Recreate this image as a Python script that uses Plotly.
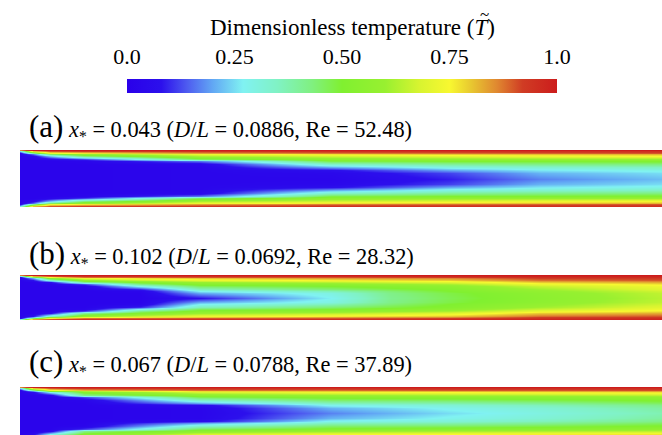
import numpy as np
import plotly.graph_objects as go

# ---------------- data ----------------
# distance from the wall, as a fraction of the half-height (0 = wall, 1 = centreline)
eta = [0.0, 0.05, 0.1, 0.15, 0.2, 0.3, 0.4, 0.5, 0.6, 0.7, 0.8, 1.0]

# axial stations (fraction of the shown channel length)
x_a = [0.0, 0.02, 0.047, 0.1, 0.28, 0.484, 0.67, 0.81, 1.0]
T_a = [
    [0.85, 0.25, 0.04, 0.02, 0.02, 0.02, 0.02, 0.02, 0.02, 0.02, 0.02, 0.02],
    [1.0, 0.80, 0.40, 0.15, 0.05, 0.02, 0.02, 0.02, 0.02, 0.02, 0.02, 0.02],
    [1.0, 0.90, 0.72, 0.45, 0.22, 0.04, 0.02, 0.02, 0.02, 0.02, 0.02, 0.02],
    [1.0, 0.92, 0.77, 0.57, 0.43, 0.12, 0.03, 0.02, 0.02, 0.02, 0.02, 0.02],
    [1.0, 0.94, 0.84, 0.72, 0.62, 0.46, 0.16, 0.04, 0.03, 0.03, 0.03, 0.03],
    [1.0, 0.95, 0.87, 0.77, 0.67, 0.56, 0.48, 0.34, 0.20, 0.07, 0.04, 0.03],
    [1.0, 0.95, 0.88, 0.80, 0.70, 0.58, 0.50, 0.40, 0.30, 0.20, 0.12, 0.09],
    [1.0, 0.95, 0.89, 0.81, 0.72, 0.59, 0.50, 0.42, 0.33, 0.26, 0.21, 0.17],
    [1.0, 0.95, 0.90, 0.82, 0.74, 0.60, 0.51, 0.43, 0.35, 0.29, 0.25, 0.22],
]

x_b = [0.0, 0.02, 0.047, 0.1, 0.187, 0.28, 0.484, 0.576, 0.67, 0.81, 1.0]
T_b = [
    [0.85, 0.25, 0.04, 0.02, 0.02, 0.02, 0.02, 0.02, 0.02, 0.02, 0.02, 0.02],
    [1.0, 0.82, 0.45, 0.20, 0.08, 0.02, 0.02, 0.02, 0.02, 0.02, 0.02, 0.02],
    [1.0, 0.90, 0.75, 0.55, 0.33, 0.07, 0.02, 0.02, 0.02, 0.02, 0.02, 0.02],
    [1.0, 0.95, 0.88, 0.72, 0.58, 0.40, 0.12, 0.03, 0.02, 0.02, 0.02, 0.02],
    [1.0, 0.95, 0.89, 0.77, 0.66, 0.52, 0.42, 0.28, 0.10, 0.03, 0.02, 0.02],
    [1.0, 0.95, 0.90, 0.80, 0.72, 0.60, 0.53, 0.46, 0.36, 0.27, 0.20, 0.08],
    [1.0, 0.96, 0.90, 0.84, 0.76, 0.64, 0.56, 0.50, 0.44, 0.36, 0.30, 0.27],
    [1.0, 0.96, 0.91, 0.85, 0.78, 0.67, 0.59, 0.53, 0.48, 0.44, 0.42, 0.41],
    [1.0, 0.97, 0.92, 0.86, 0.80, 0.70, 0.62, 0.56, 0.52, 0.50, 0.48, 0.47],
    [1.0, 0.98, 0.95, 0.92, 0.88, 0.80, 0.72, 0.66, 0.61, 0.58, 0.56, 0.55],
    [1.0, 0.98, 0.96, 0.93, 0.90, 0.83, 0.77, 0.73, 0.70, 0.67, 0.65, 0.64],
]

x_c = [0.0, 0.02, 0.047, 0.1, 0.28, 0.484, 0.67, 0.81, 1.0]
T_c = [
    [0.85, 0.25, 0.04, 0.02, 0.02, 0.02, 0.02, 0.02, 0.02, 0.02, 0.02, 0.02],
    [1.0, 0.80, 0.42, 0.17, 0.06, 0.02, 0.02, 0.02, 0.02, 0.02, 0.02, 0.02],
    [1.0, 0.90, 0.73, 0.50, 0.27, 0.05, 0.02, 0.02, 0.02, 0.02, 0.02, 0.02],
    [1.0, 0.94, 0.82, 0.62, 0.52, 0.42, 0.12, 0.03, 0.02, 0.02, 0.02, 0.02],
    [1.0, 0.95, 0.88, 0.78, 0.68, 0.56, 0.47, 0.34, 0.20, 0.06, 0.03, 0.03],
    [1.0, 0.95, 0.88, 0.80, 0.73, 0.60, 0.52, 0.45, 0.36, 0.28, 0.21, 0.17],
    [1.0, 0.96, 0.90, 0.82, 0.75, 0.62, 0.54, 0.46, 0.38, 0.32, 0.28, 0.25],
    [1.0, 0.96, 0.90, 0.83, 0.76, 0.63, 0.55, 0.48, 0.41, 0.36, 0.32, 0.30],
    [1.0, 0.96, 0.91, 0.84, 0.77, 0.65, 0.57, 0.51, 0.46, 0.42, 0.39, 0.37],
]

panel_labels = ["(a)", "(b)", "(c)"]
panel_texts = [
    "<i>x</i><sub>*</sub> = 0.043 (<i>D</i>/<i>L</i> = 0.0886, Re = 52.48)",
    "<i>x</i><sub>*</sub> = 0.102 (<i>D</i>/<i>L</i> = 0.0692, Re = 28.32)",
    "<i>x</i><sub>*</sub> = 0.067 (<i>D</i>/<i>L</i> = 0.0788, Re = 37.89)",
]
cbar_ticks = [0.0, 0.25, 0.5, 0.75, 1.0]
cbar_ticktext = ["0.0", "0.25", "0.50", "0.75", "1.0"]
cbar_title = "Dimensionless temperature (<i>T</i>)"
cbar_title_accent = "~"

colorscale = [
    [0.00, "#2a00ea"], [0.08, "#2c10ec"], [0.14, "#4e5cf0"], [0.20, "#62a8f4"],
    [0.27, "#80f2f2"], [0.35, "#80f2c4"], [0.43, "#80f080"], [0.50, "#80f030"],
    [0.60, "#98f030"], [0.68, "#d8f430"], [0.75, "#f8f830"], [0.80, "#e8c830"],
    [0.86, "#e08830"], [0.92, "#d03c24"], [1.00, "#cc1c1c"],
]

# ---------------- build figure ----------------
W, H = 662, 435
FONT = "Liberation Serif, Times New Roman, serif"

def py(p):  # pixel row -> paper y
    return 1 - p / H

eta_arr = np.array(eta)
y_full = np.concatenate([-(1 - eta_arr), (1 - eta_arr[::-1])[1:]])

def full_field(prof):
    half = np.array(prof)
    return np.concatenate([half, half[:, ::-1][:, 1:]], axis=1).T

panels = [
    (x_a, T_a, (150, 207), [-1, 1]),
    (x_b, T_b, (275, 320), [-1, 1]),
    (x_c, T_c, (387, 435), [1 - 48 / 26, 1]),
]

fig = go.Figure()
for i, (xs, prof, (top, bot), yr) in enumerate(panels):
    k = "" if i == 0 else str(i + 1)
    tr = go.Heatmap(
        x=xs, y=y_full, z=full_field(prof), zmin=0, zmax=1,
        colorscale=colorscale, zsmooth="best", hoverinfo="skip",
        xaxis="x" + k, yaxis="y" + k, showscale=(i == 0),
    )
    if i == 0:
        tr.colorbar = dict(
            orientation="h", thickness=14, lenmode="pixels", len=430,
            x=342 / W, xanchor="center", y=py(79), yanchor="top",
            xpad=0, ypad=0, outlinewidth=0, ticks="", showticklabels=False,
        )
    fig.add_trace(tr)
    fig.layout["xaxis" + k] = dict(domain=[20 / W, 1], range=[0, 1], visible=False,
                                   anchor="y" + k)
    fig.layout["yaxis" + k] = dict(domain=[py(bot), py(top)], range=yr, visible=False,
                                   anchor="x" + k)

# tick-label axis for the colour bar (invisible markers make the subplot render)
fig.add_trace(go.Scatter(x=cbar_ticks, y=[0.5] * len(cbar_ticks), mode="markers",
                         marker=dict(opacity=0), hoverinfo="skip", showlegend=False,
                         xaxis="x4", yaxis="y4"))
fig.layout["xaxis4"] = dict(domain=[127 / W, 557 / W], range=[0, 1], anchor="y4", side="top",
                            tickvals=cbar_ticks, ticktext=cbar_ticktext, showgrid=False,
                            zeroline=False, showline=False, ticks="outside", ticklen=5,
                            tickcolor="rgba(0,0,0,0)", automargin=False,
                            tickfont=dict(family=FONT, size=22, color="black"))
fig.layout["yaxis4"] = dict(domain=[py(93), py(79)], range=[0, 1], anchor="x4", visible=False)

annotations = [
    dict(text=cbar_title, x=353 / W, y=py(27), xref="paper", yref="paper",
         xanchor="center", yanchor="middle", showarrow=False,
         font=dict(family=FONT, size=23, color="black")),
    dict(text=cbar_title_accent, x=484 / W, y=py(14.5), xref="paper", yref="paper",
         xanchor="center", yanchor="middle", showarrow=False,
         font=dict(family=FONT, size=17, color="black")),
]
label_rows = [127, 254, 362]
for lab, txt, row in zip(panel_labels, panel_texts, label_rows):
    annotations.append(dict(
        text=f"<span style='font-size:31px'>{lab}</span> {txt}",
        x=27 / W, y=py(row), xref="paper", yref="paper", xanchor="left", yanchor="middle",
        showarrow=False, font=dict(family=FONT, size=22.4, color="black")))

fig.update_layout(width=W, height=H,
                  margin=dict(l=0, r=0, t=0, b=0, pad=0, autoexpand=False),
                  paper_bgcolor="white", plot_bgcolor="white",
                  annotations=annotations, showlegend=False)

fig.write_html("out.html")
